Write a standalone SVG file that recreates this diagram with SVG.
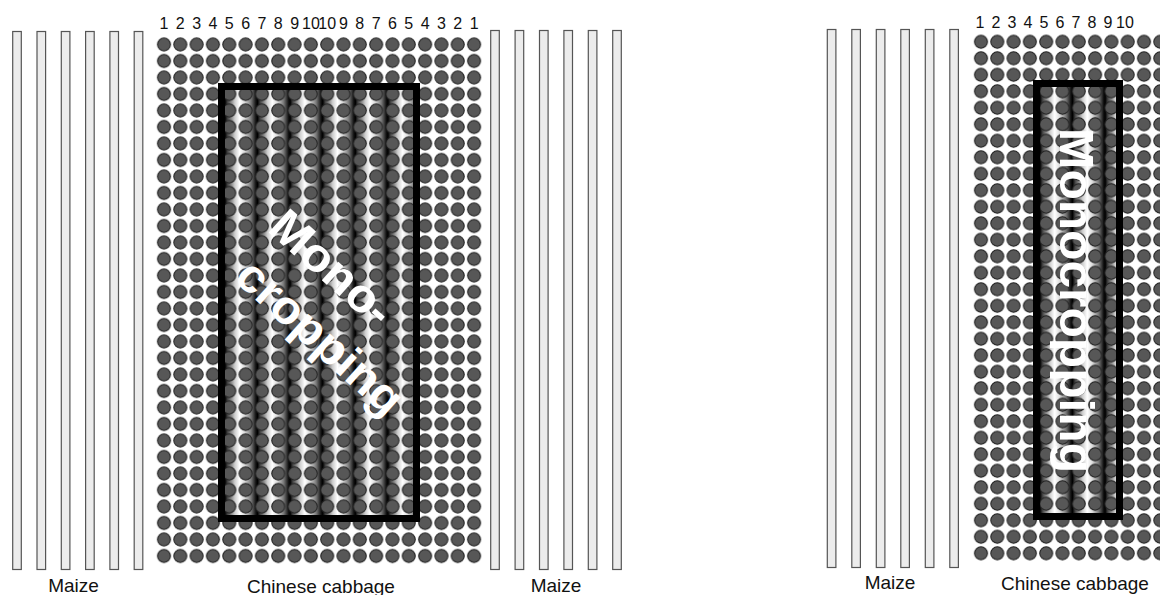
<svg xmlns="http://www.w3.org/2000/svg" width="1160" height="595" viewBox="0 0 1160 595">
<style>
.bar{fill:#ececec;stroke:#555;stroke-width:1.2}
.num{font-family:"Liberation Sans",Arial,sans-serif;font-size:16px;fill:#111;text-anchor:middle}
.lbl{font-family:"Liberation Sans",Arial,sans-serif;font-size:19px;fill:#111;text-anchor:middle}
.big{font-family:"Liberation Sans",Arial,sans-serif;font-weight:bold;fill:#fff}
.frame{fill:none;stroke:#000;stroke-width:7}
</style>
<defs>
<pattern id="dotsL" patternUnits="userSpaceOnUse" x="155.84" y="36.25" width="16.32" height="16.5">
<circle cx="8.16" cy="8.25" r="6.5" fill="#575757" stroke="#1e1e1e" stroke-width="1"/>
</pattern>
<pattern id="dotsR" patternUnits="userSpaceOnUse" x="972.85" y="33.55" width="16.3" height="16.5">
<circle cx="8.15" cy="8.25" r="6.5" fill="#575757" stroke="#1e1e1e" stroke-width="1"/>
</pattern>
<linearGradient id="shadeL" gradientUnits="userSpaceOnUse" x1="225" y1="0" x2="257.6" y2="0" spreadMethod="repeat">
<stop offset="0" stop-color="#000"/>
<stop offset="0.08" stop-color="#444"/>
<stop offset="0.3" stop-color="#ccc"/>
<stop offset="0.45" stop-color="#fff"/>
<stop offset="0.6" stop-color="#ddd"/>
<stop offset="0.8" stop-color="#777"/>
<stop offset="0.95" stop-color="#111"/>
<stop offset="1" stop-color="#000"/>
</linearGradient>
<linearGradient id="shadeR" gradientUnits="userSpaceOnUse" x1="1040" y1="0" x2="1072.6" y2="0" spreadMethod="repeat">
<stop offset="0" stop-color="#000"/>
<stop offset="0.08" stop-color="#444"/>
<stop offset="0.3" stop-color="#ccc"/>
<stop offset="0.45" stop-color="#fff"/>
<stop offset="0.6" stop-color="#ddd"/>
<stop offset="0.8" stop-color="#777"/>
<stop offset="0.95" stop-color="#111"/>
<stop offset="1" stop-color="#000"/>
</linearGradient>
</defs>
<rect x="0" y="0" width="1160" height="595" fill="#fff"/>

<g id="maize-left-1">
<rect class="bar" x="12.7" y="31.5" width="8.6" height="538"/>
<rect class="bar" x="37" y="31.5" width="8.6" height="538"/>
<rect class="bar" x="61.3" y="31.5" width="8.6" height="538"/>
<rect class="bar" x="85.6" y="31.5" width="8.6" height="538"/>
<rect class="bar" x="109.9" y="31.5" width="8.6" height="538"/>
<rect class="bar" x="134.2" y="31.5" width="8.6" height="538"/>
<text class="lbl" x="73.5" y="592">Maize</text>
</g>

<g id="cabbage-left">
<rect x="225" y="90" width="188" height="425" fill="url(#shadeL)"/>
<rect x="155.84" y="36.25" width="326.4" height="528" fill="url(#dotsL)"/>
<g class="num">
<text x="164" y="29">1</text><text x="180.3" y="29">2</text><text x="196.6" y="29">3</text><text x="213" y="29">4</text><text x="229.3" y="29">5</text>
<text x="245.6" y="29">6</text><text x="261.9" y="29">7</text><text x="278.2" y="29">8</text><text x="294.6" y="29">9</text><text x="310.9" y="29">10</text>
<text x="327.2" y="29">10</text><text x="343.5" y="29">9</text><text x="359.8" y="29">8</text><text x="376.2" y="29">7</text><text x="392.5" y="29">6</text>
<text x="408.8" y="29">5</text><text x="425.1" y="29">4</text><text x="441.4" y="29">3</text><text x="457.8" y="29">2</text><text x="474.1" y="29">1</text>
</g>
<rect class="frame" x="221.5" y="86.5" width="195" height="432"/>
<g class="big" font-size="47" transform="rotate(42)">
<text x="352" y="-7" textLength="148" lengthAdjust="spacingAndGlyphs">Mono-</text>
<text x="360" y="52" textLength="207" lengthAdjust="spacingAndGlyphs">cropping</text>
</g>
<text class="lbl" x="321" y="593">Chinese cabbage</text>
</g>

<g id="maize-left-2">
<rect class="bar" x="490.7" y="30.5" width="8.6" height="539"/>
<rect class="bar" x="515.1" y="30.5" width="8.6" height="539"/>
<rect class="bar" x="539.5" y="30.5" width="8.6" height="539"/>
<rect class="bar" x="563.9" y="30.5" width="8.6" height="539"/>
<rect class="bar" x="588.3" y="30.5" width="8.6" height="539"/>
<rect class="bar" x="612.7" y="30.5" width="8.6" height="539"/>
<text class="lbl" x="556" y="592">Maize</text>
</g>

<g id="maize-right">
<rect class="bar" x="827.3" y="29.5" width="8.6" height="538"/>
<rect class="bar" x="851.8" y="29.5" width="8.6" height="538"/>
<rect class="bar" x="876.3" y="29.5" width="8.6" height="538"/>
<rect class="bar" x="900.8" y="29.5" width="8.6" height="538"/>
<rect class="bar" x="925.3" y="29.5" width="8.6" height="538"/>
<rect class="bar" x="949.8" y="29.5" width="8.6" height="538"/>
<text class="lbl" x="890" y="589">Maize</text>
</g>

<g id="cabbage-right">
<rect x="1040" y="87" width="77" height="426" fill="url(#shadeR)"/>
<rect x="972.85" y="33.55" width="200" height="528" fill="url(#dotsR)"/>
<g class="num">
<text x="980" y="28">1</text><text x="996" y="28">2</text><text x="1012" y="28">3</text><text x="1028" y="28">4</text><text x="1044" y="28">5</text>
<text x="1060" y="28">6</text><text x="1076" y="28">7</text><text x="1092" y="28">8</text><text x="1108" y="28">9</text><text x="1125" y="28">10</text>
</g>
<rect class="frame" x="1036.5" y="83.5" width="83" height="433"/>
<text class="big" font-size="48" transform="rotate(90)" x="128" y="-1060" textLength="345" lengthAdjust="spacingAndGlyphs">Monocropping</text>
<text class="lbl" x="1075" y="590">Chinese cabbage</text>
</g>
</svg>
